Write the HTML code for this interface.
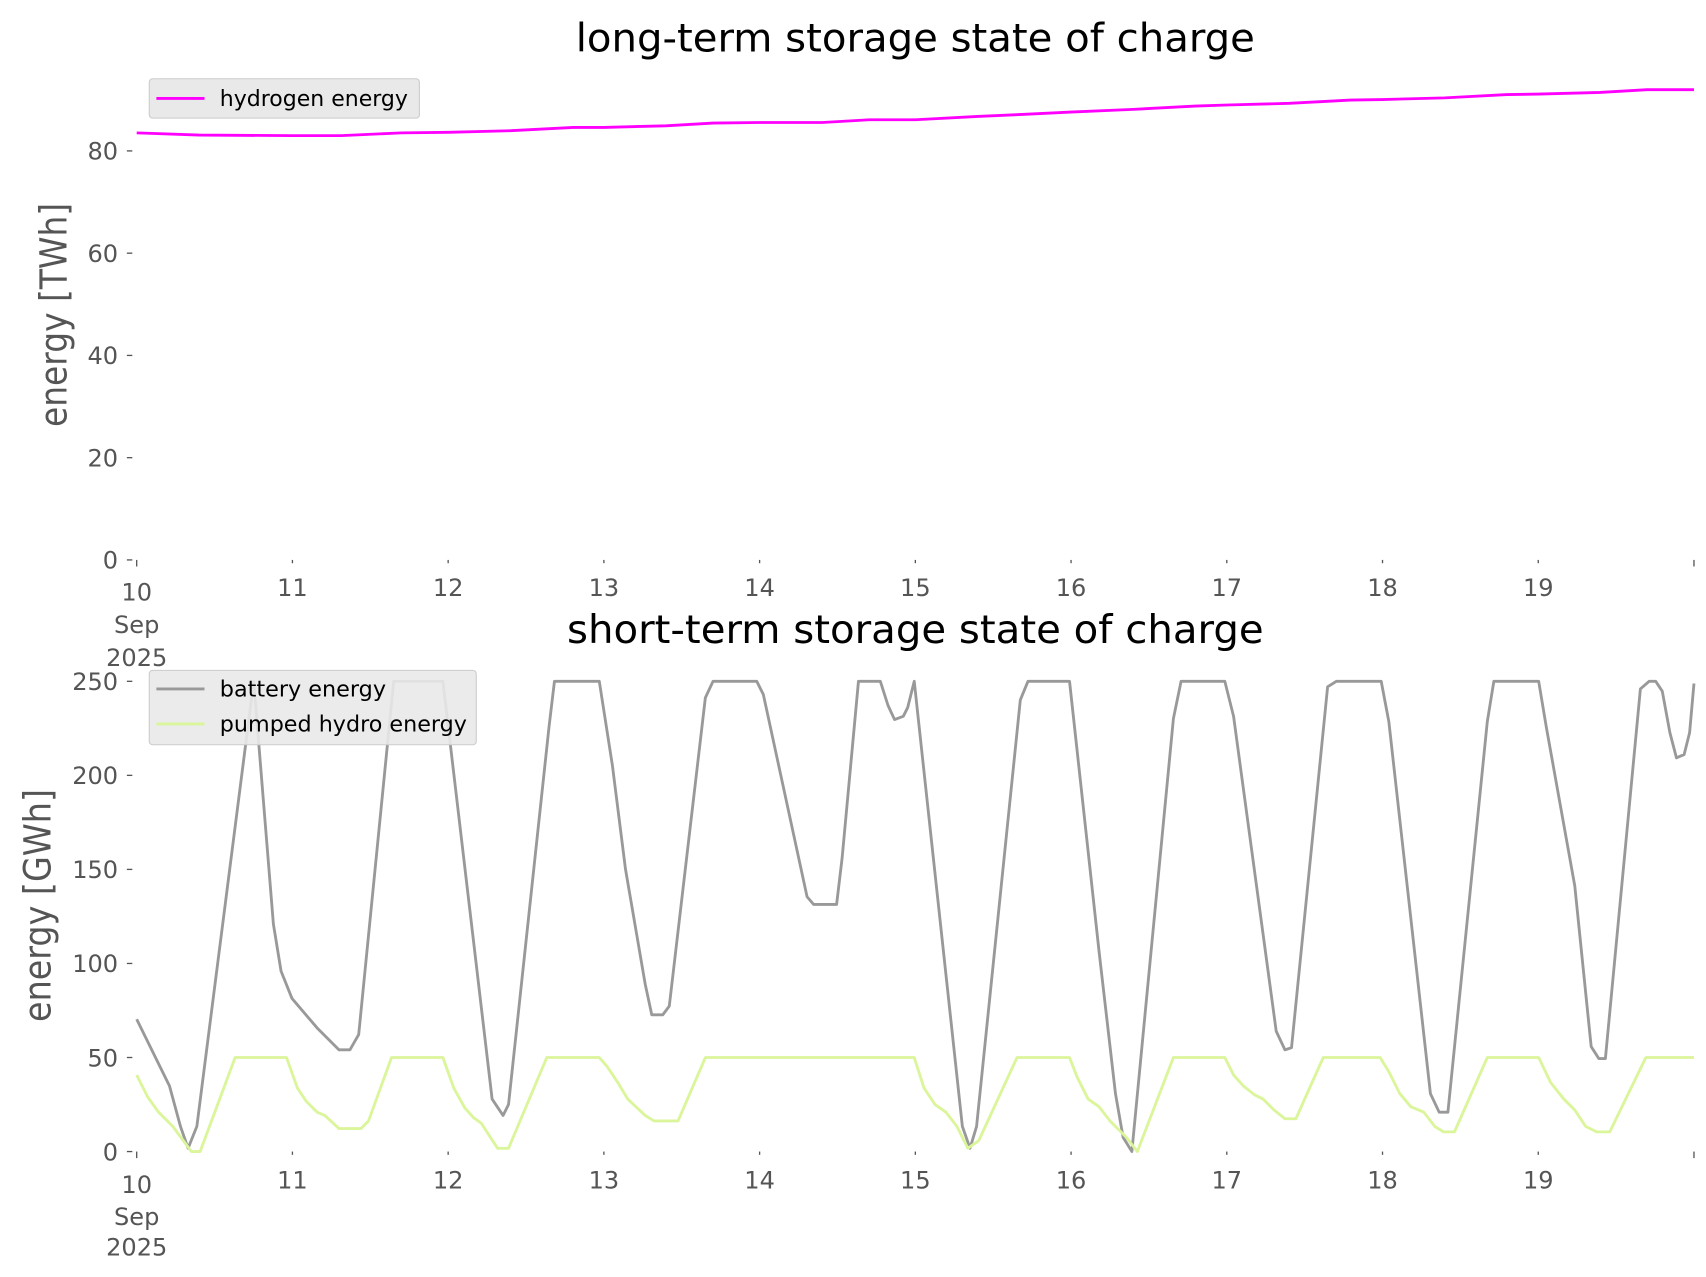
<!DOCTYPE html>
<html><head><meta charset="utf-8"><style>html,body{margin:0;padding:0;background:#fff}svg{display:block}</style></head>
<body>
<svg xmlns="http://www.w3.org/2000/svg" width="1706" height="1277" viewBox="0 0 1560 1167.7" font-family="DejaVu Sans, Liberation Sans, sans-serif">
<rect width="1560" height="1168" fill="#fff"/>
<!-- TOP -->
<text x="837" y="47" font-size="36" text-anchor="middle" fill="#000" textLength="621" lengthAdjust="spacingAndGlyphs">long-term storage state of charge</text>
<text transform="translate(61,288) rotate(-90)" font-size="34" text-anchor="middle" fill="#555" textLength="205" lengthAdjust="spacingAndGlyphs">energy [TWh]</text>
<g font-size="22" fill="#555" text-anchor="end">
<text x="108" y="146">80</text><text x="108" y="239.5">60</text><text x="108" y="333">40</text><text x="108" y="426.5">20</text><text x="108" y="520">0</text>
</g>
<g stroke="#555" stroke-width="1.2">
<line x1="116" x2="121" y1="138" y2="138"/><line x1="116" x2="121" y1="231.5" y2="231.5"/><line x1="116" x2="121" y1="325" y2="325"/><line x1="116" x2="121" y1="418.5" y2="418.5"/><line x1="116" x2="121" y1="512" y2="512"/>
<line x1="125" x2="125" y1="512" y2="518"/><line x1="267.4" x2="267.4" y1="512" y2="515"/><line x1="409.8" x2="409.8" y1="512" y2="515"/><line x1="552.2" x2="552.2" y1="512" y2="515"/><line x1="694.6" x2="694.6" y1="512" y2="515"/><line x1="837" x2="837" y1="512" y2="515"/><line x1="979.4" x2="979.4" y1="512" y2="515"/><line x1="1121.8" x2="1121.8" y1="512" y2="515"/><line x1="1264.2" x2="1264.2" y1="512" y2="515"/><line x1="1406.6" x2="1406.6" y1="512" y2="515"/><line x1="1549" x2="1549" y1="512" y2="518"/>
</g>
<g font-size="22" fill="#555" text-anchor="middle">
<text x="125" y="549">10</text><text x="125" y="579">Sep</text><text x="125" y="609">2025</text>
<text x="267.4" y="545">11</text><text x="409.8" y="545">12</text><text x="552.2" y="545">13</text><text x="694.6" y="545">14</text><text x="837" y="545">15</text><text x="979.4" y="545">16</text><text x="1121.8" y="545">17</text><text x="1264.2" y="545">18</text><text x="1406.6" y="545">19</text>
</g>
<polyline fill="none" stroke="#ff00ff" stroke-width="2.6" points="125,121.5 182,123.5 267,124 312,124 367,121.5 410,121 467,119.5 524,116.5 552,116.5 609,115 652,112.5 695,112 752,112 795,109.5 837,109.5 894,106.5 937,104.5 979,102.5 1036,100 1093,97 1122,96 1179,94.5 1235,91.5 1264,91 1321,89.5 1378,86.5 1407,86 1463,84.5 1506,82 1549,82"/>
<rect x="136.5" y="72" width="247" height="36" rx="3" fill="#e9e9e9" stroke="#ccc"/>
<line x1="143" x2="187" y1="90" y2="90" stroke="#ff00ff" stroke-width="2.6"/>
<text x="201" y="97" font-size="20" fill="#000" textLength="172" lengthAdjust="spacingAndGlyphs">hydrogen energy</text>

<!-- BOTTOM -->
<text x="837" y="588" font-size="36" text-anchor="middle" fill="#000" textLength="637" lengthAdjust="spacingAndGlyphs">short-term storage state of charge</text>
<text transform="translate(46,828) rotate(-90)" font-size="34" text-anchor="middle" fill="#555" textLength="213" lengthAdjust="spacingAndGlyphs">energy [GWh]</text>
<g font-size="22" fill="#555" text-anchor="end">
<text x="108" y="631">250</text><text x="108" y="717">200</text><text x="108" y="803">150</text><text x="108" y="889">100</text><text x="108" y="975">50</text><text x="108" y="1061">0</text>
</g>
<g stroke="#555" stroke-width="1.2">
<line x1="116" x2="121" y1="623" y2="623"/><line x1="116" x2="121" y1="709" y2="709"/><line x1="116" x2="121" y1="795" y2="795"/><line x1="116" x2="121" y1="881" y2="881"/><line x1="116" x2="121" y1="967" y2="967"/><line x1="116" x2="121" y1="1053" y2="1053"/>
<line x1="125" x2="125" y1="1053" y2="1059"/><line x1="267.4" x2="267.4" y1="1053" y2="1056"/><line x1="409.8" x2="409.8" y1="1053" y2="1056"/><line x1="552.2" x2="552.2" y1="1053" y2="1056"/><line x1="694.6" x2="694.6" y1="1053" y2="1056"/><line x1="837" x2="837" y1="1053" y2="1056"/><line x1="979.4" x2="979.4" y1="1053" y2="1056"/><line x1="1121.8" x2="1121.8" y1="1053" y2="1056"/><line x1="1264.2" x2="1264.2" y1="1053" y2="1056"/><line x1="1406.6" x2="1406.6" y1="1053" y2="1056"/><line x1="1549" x2="1549" y1="1053" y2="1059"/>
</g>
<g font-size="22" fill="#555" text-anchor="middle">
<text x="125" y="1091">10</text><text x="125" y="1120">Sep</text><text x="125" y="1148">2025</text>
<text x="267.4" y="1087">11</text><text x="409.8" y="1087">12</text><text x="552.2" y="1087">13</text><text x="694.6" y="1087">14</text><text x="837" y="1087">15</text><text x="979.4" y="1087">16</text><text x="1121.8" y="1087">17</text><text x="1264.2" y="1087">18</text><text x="1406.6" y="1087">19</text>
</g>
<polyline fill="none" stroke="#999" stroke-width="2.6" stroke-linejoin="round" points="125,932 155,993 165,1030 172,1050 180,1030 232,623 250,845 257,888 267,913 290,940 310,960 320,960 328,946 360,623 405,623 450,1005 460,1020 465,1010 502,665 507,623 548,623 560,700 572,795 590,900 596,928 606,928 612,920 645,638 652,623 692,623 698,635 738,820 744,827 765,827 770,785 785,623 805,623 812,645 818,658 826,655 830,647 836,623 880,1030 887,1050 893,1030 933,640 940,623 978,623 1005,870 1020,1000 1027,1040 1035,1053 1073,657 1080,623 1120,623 1128,655 1167,943 1175,960 1181,958 1214,628 1222,623 1263,623 1270,660 1308,1000 1316,1017 1324,1017 1360,660 1366,623 1407,623 1414,665 1440,810 1455,957 1462,968 1468,968 1500,630 1508,623 1514,623 1520,632 1527,670 1533,693 1540,690 1545,670 1549,625"/>
<polyline fill="none" stroke="#dbf59a" stroke-width="2.6" stroke-linejoin="round" points="125,983 135,1003 145,1017 158,1030 175,1053 183,1053 215,967 262,967 272,995 280,1007 290,1017 297,1020 310,1032 330,1032 337,1025 358,967 405,967 415,995 425,1013 433,1022 440,1027 455,1050 465,1050 500,967 548,967 555,975 565,990 574,1005 590,1020 598,1025 620,1025 645,967 836,967 845,995 855,1010 865,1017 875,1030 885,1050 895,1043 930,967 978,967 985,985 995,1005 1005,1012 1015,1025 1030,1040 1040,1053 1073,967 1120,967 1128,983 1137,993 1147,1001 1155,1005 1165,1015 1175,1023 1185,1023 1210,967 1262,967 1270,980 1280,1000 1290,1012 1302,1017 1312,1030 1320,1035 1330,1035 1360,967 1407,967 1418,990 1430,1005 1440,1015 1450,1030 1460,1035 1472,1035 1505,967 1549,967"/>
<rect x="136.5" y="613" width="299" height="68" rx="3" fill="#e9e9e9" fill-opacity="0.9" stroke="#ccc"/>
<line x1="143" x2="187" y1="630" y2="630" stroke="#999" stroke-width="2.6"/>
<text x="201" y="637" font-size="20" fill="#000" textLength="152" lengthAdjust="spacingAndGlyphs">battery energy</text>
<line x1="143" x2="187" y1="662" y2="662" stroke="#dbf59a" stroke-width="2.6"/>
<text x="201" y="669" font-size="20" fill="#000" textLength="226" lengthAdjust="spacingAndGlyphs">pumped hydro energy</text>
</svg>
</body></html>
